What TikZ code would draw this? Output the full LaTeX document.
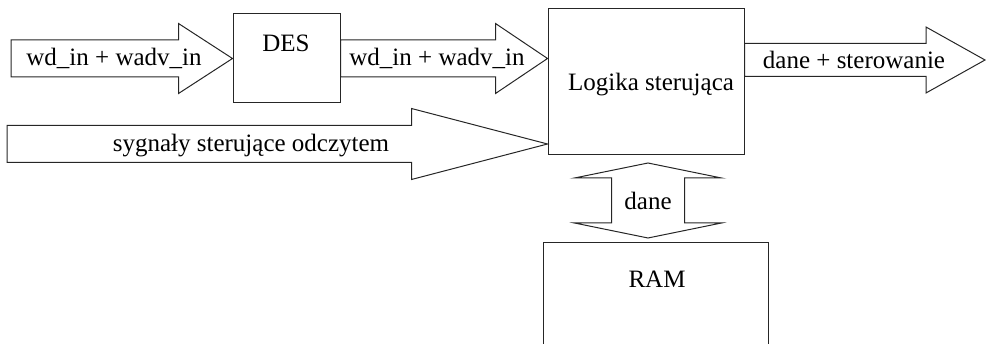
\documentclass[tikz,border=0pt]{standalone}
\usepackage{fontspec}
\setmainfont{Liberation Serif}
\usetikzlibrary{calc}

\tikzset{
  box/.style={draw=black!85, line width=1pt, inner sep=0pt},
  arrowline/.style={draw=black!85, line width=1pt, line join=miter},
  lbl/.style={anchor=base, inner sep=0pt, font=\fontsize{25}{30}\selectfont}
}

% horizontal block arrow: start, tip, half shaft, half head, head length
\newcommand{\blockarrow}[5]{%
  \draw[arrowline] let \p1=(#1), \p2=(#2) in
    (\x1,\y2+#3) -- (\x2-#5,\y2+#3) -- (\x2-#5,\y2+#4) -- (\p2)
    -- (\x2-#5,\y2-#4) -- (\x2-#5,\y2-#3) -- (\x1,\y2-#3) -- cycle;}

\begin{document}
\begin{tikzpicture}[x=1pt, y=-1pt]
    \useasboundingbox (0,0) rectangle (986,344);

    % blocks
    \node[box, minimum width=107pt, minimum height=89pt] (des) at (286.5,58.5) {};
    \node[box, minimum width=196pt, minimum height=146pt] (logic) at (646,82) {};
    \node[box, minimum width=225pt, minimum height=130pt, anchor=north west] (ram) at (543,242) {};

    \node[lbl] (destxt) at (286,52) {DES};
    \node[lbl] (logictxt) at (651,91) {Logika sterująca};
    \node[lbl] (ramtxt) at (657,288) {RAM};

    % free ends
    \coordinate (in1) at (11,58.5);
    \coordinate (in2) at (7,144);
    \coordinate (out) at (985,60);
    \coordinate (up) at (648,163);
    \coordinate (down) at (648,238);

    % block arrows
    \blockarrow{in1}{des.west}{18.5pt}{35pt}{54pt}
    \blockarrow{des.east}{des.east -| logic.west}{18.5pt}{35pt}{52pt}
    \blockarrow{in2}{in2 -| logic.west}{18.5pt}{35.5pt}{136pt}
    \blockarrow{logic.east |- out}{out}{16.5pt}{33pt}{59pt}

    % two-way arrow to RAM
    \draw[arrowline] let \p1=(up), \p2=(down) in
        (\p1) -- (\x1+73.5pt,\y1-15pt) -- (\x1+36.5pt,\y1-15pt)
        -- (\x1+36.5pt,\y2+15pt) -- (\x1+73.5pt,\y2+15pt) -- (\p2)
        -- (\x1-73.5pt,\y2+15pt) -- (\x1-36.5pt,\y2+15pt)
        -- (\x1-36.5pt,\y1-15pt) -- (\x1-73.5pt,\y1-15pt) -- cycle;

    % labels on arrows
    \node[lbl] (wd1) at (114,66) {wd\_in + wadv\_in};
    \node[lbl] (wd2) at (437,66) {wd\_in + wadv\_in};
    \node[lbl] (syg) at (251,152) {sygnały sterujące odczytem};
    \node[lbl] (dst) at (854,69) {dane + sterowanie};
    \node[lbl] (dane) at (648,210) {dane};
\end{tikzpicture}
\end{document}
